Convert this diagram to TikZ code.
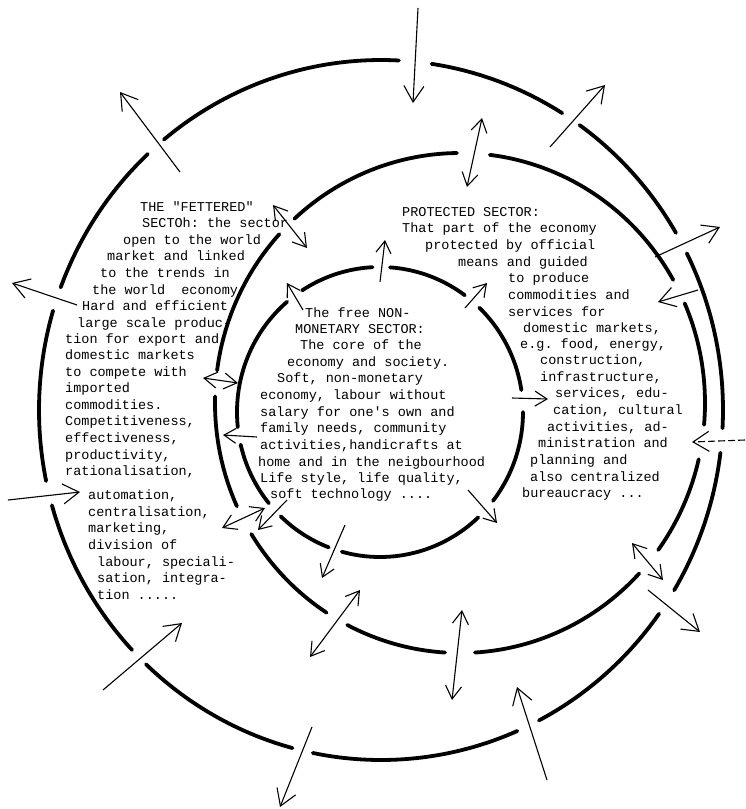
\documentclass[tikz,border=0pt]{standalone}
\usepackage{fontspec}
\setmonofont{Liberation Mono}
\usetikzlibrary{arrows.meta}
\begin{document}
\begin{tikzpicture}[x=1pt,y=-1pt,
  ring/.style={line width=3.8pt, line cap=round},
  bigarr/.style={line width=1.1pt, -{Straight Barb[length=16pt,width=20pt,line width=1.1pt]}},
  smallarr/.style={line width=1.1pt, -{Straight Barb[length=12pt,width=15pt,line width=1.1pt]}},
  dblarr/.style={line width=1.1pt, {Straight Barb[length=13pt,width=16pt,line width=1.1pt]}-{Straight Barb[length=13pt,width=16pt,line width=1.1pt]}},
  tw/.style={font=\ttfamily\fontsize{13.5}{16}\selectfont, inner sep=0pt, anchor=base west}]
\useasboundingbox (0,0) rectangle (745,809);
\fill[white] (0,0) rectangle (745,809);

% rings
\foreach \a/\b in {87/129.4, 133/159.5, 163.5/191.7, 195.8/223.3, 226.6/255, 258.5/293.5, 297.5/324.4, 329/353, 357/386.6, 30.4/54.5, 58/81.5}
  \draw[ring] plot[domain=\a:\b, samples=40, smooth] ({381+342*cos(\x)}, {410-350*sin(\x)});
\foreach \a/\b in {90.7/132.5, 137.5/172.5, 178.5/204.4, 211.6/237, 242.6/266.5, 273.5/317, 324/347, 355/383.5, 29.5/83}
  \draw[ring] plot[domain=\a:\b, samples=40, smooth] ({460+245*cos(\x)}, {403-250*sin(\x)});
\foreach \a/\b in {93/123, 130.5/186, 193/219, 226/249, 254.5/313.4, 322.2/360, 8.7/46, 53.6/86}
  \draw[ring] plot[domain=\a:\b, samples=30, smooth] ({380+143*cos(\x)}, {412-145*sin(\x)});

% arrow end points
\foreach \n/\x/\y in {a1s/418/8, a1e/413/103, a2s/180/172, a2e/120/92, a3s/77/305, a3e/12/283,
  a4s/8/500, a4e/80/492, a5s/103/690, a5e/182/623, a6s/312/727, a6e/280/807,
  a7s/547/780, a7e/517/687, a8s/648/590, a8e/700/632, a9s/632/543, a9e/663/580,
  a10s/462/610, a10e/452/700, a11s/745/440, a11e/692/442, a12s/550/147, a12e/605/85,
  a13s/655/257, a13e/720/227, a14s/698/290, a14e/658/302, a15s/482/118, a15e/467/187,
  a16s/273/205, a16e/307/248, a17s/303/310, a17e/287/283, a18s/380/282, a18e/385/240,
  a19s/465/308, a19e/487/283, a20s/512/398, a20e/548/399, a21s/468/490, a21e/497/523,
  a22s/345/525, a22e/322/578, a23s/257/437, a23e/223/435, a24s/203/378, a24e/238/383,
  a25s/222/528, a25e/265/508, a26s/287/500, a26e/258/530, a27s/360/590, a27e/310/657}
  \coordinate (\n) at (\x,\y);

% outer arrows
\draw[bigarr] (a1s) -- (a1e);
\draw[bigarr] (a2s) -- (a2e);
\draw[bigarr] (a3s) -- (a3e);
\draw[bigarr] (a4s) -- (a4e);
\draw[bigarr] (a5s) -- (a5e);
\draw[bigarr] (a6s) -- (a6e);
\draw[bigarr] (a7s) -- (a7e);
\draw[bigarr] (a8s) -- (a8e);
\draw[bigarr, dash pattern=on 7pt off 3pt] (a11s) -- (a11e);
\draw[bigarr] (a12s) -- (a12e);
\draw[bigarr] (a13s) -- (a13e);
\draw[bigarr] (a14s) -- (a14e);
% double arrows
\draw[dblarr] (a9s) -- (a9e);
\draw[dblarr] (a10s) -- (a10e);
\draw[dblarr] (a15s) -- (a15e);
\draw[dblarr] (a16s) -- (a16e);
\draw[dblarr] (a24s) -- (a24e);
\draw[dblarr] (a25s) -- (a25e);
\draw[dblarr] (a27s) -- (a27e);
% inner arrows
\draw[smallarr] (a17s) -- (a17e);
\draw[smallarr] (a18s) -- (a18e);
\draw[smallarr] (a19s) -- (a19e);
\draw[smallarr] (a20s) -- (a20e);
\draw[smallarr] (a21s) -- (a21e);
\draw[smallarr] (a22s) -- (a22e);
\draw[smallarr] (a23s) -- (a23e);
\draw[smallarr] (a26s) -- (a26e);

% texts
\foreach \x/\y/\s [count=\i] in {
 140/211/{THE "FETTERED"},
 142/227/{SECTOh: the sector},
 123/244/{open to the world},
 107/260/{market and linked},
 100/277/{to the trends in},
 92/294/{the world~ economy},
 82/310/{Hard and efficient},
 77/327/{large scale produc-},
 65/343/{tion for export and},
 65/359/{domestic markets},
 65/376/{to compete with},
 65/392/{imported},
 65/409/{commodities.},
 65/425/{Competitiveness,},
 65/442/{effectiveness,},
 65/459/{productivity,},
 65/475/{rationalisation,},
 88/499/{automation,},
 88/516/{centralisation,},
 88/532/{marketing,},
 88/549/{division of},
 97/566/{labour, speciali-},
 97/582/{sation, integra-},
 97/599/{tion .....}}
  \node[tw] (fet\i) at (\x,\y) {\s};

\foreach \x/\y/\s [count=\i] in {
 305/317/{The free NON-},
 295/333/{MONETARY SECTOR:},
 300/349/{The core of the},
 287/366/{economy and society.},
 277/382/{Soft, non-monetary},
 260/399/{economy, labour without},
 260/416/{salary for one's own and},
 260/432/{family needs, community},
 260/449/{activities,handicrafts at},
 258/466/{home and in the neigbourhood},
 260/482/{Life style, life quality,},
 270/498/{soft technology ....}}
  \node[tw] (free\i) at (\x,\y) {\s};

\foreach \x/\y/\s [count=\i] in {
 402/216/{PROTECTED SECTOR:},
 402/232/{That part of the economy},
 425/249/{protected by official},
 458/266/{means and guided},
 508/282/{to produce},
 508/299/{commodities and},
 508/316/{services for},
 523/332/{domestic markets,},
 520/348/{e.g. food, energy,},
 540/364/{construction,},
 540/381/{infrastructure,},
 555/397/{services, edu-},
 553/414/{cation, cultural},
 547/431/{activities, ad-},
 538/447/{ministration and},
 530/464/{planning and},
 530/481/{also centralized},
 522/497/{bureaucracy ...}}
  \node[tw] (prot\i) at (\x,\y) {\s};
\end{tikzpicture}
\end{document}
